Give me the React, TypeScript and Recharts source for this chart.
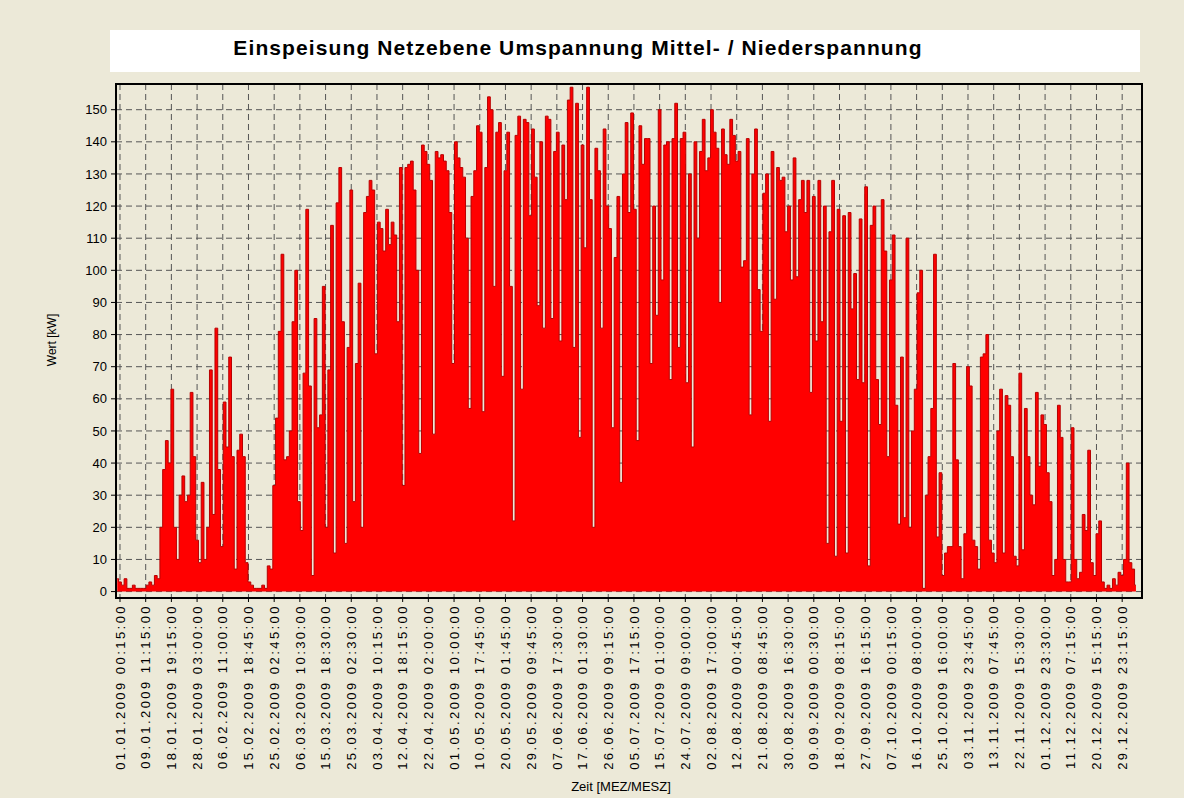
import { AreaChart, Area, XAxis, YAxis, CartesianGrid } from 'recharts';

// Zeitachse: Beschriftung alle 896 Viertelstunden (9,33 Tage)
const TICK_LABELS = [
  '01.01.2009 00:15:00', '09.01.2009 11:15:00', '18.01.2009 19:15:00', '28.01.2009 03:00:00',
  '06.02.2009 11:00:00', '15.02.2009 18:45:00', '25.02.2009 02:45:00', '06.03.2009 10:30:00',
  '15.03.2009 18:30:00', '25.03.2009 02:30:00', '03.04.2009 10:15:00', '12.04.2009 18:15:00',
  '22.04.2009 02:00:00', '01.05.2009 10:00:00', '10.05.2009 17:45:00', '20.05.2009 01:45:00',
  '29.05.2009 09:45:00', '07.06.2009 17:30:00', '17.06.2009 01:30:00', '26.06.2009 09:15:00',
  '05.07.2009 17:15:00', '15.07.2009 01:00:00', '24.07.2009 09:00:00', '02.08.2009 17:00:00',
  '12.08.2009 00:45:00', '21.08.2009 08:45:00', '30.08.2009 16:30:00', '09.09.2009 00:30:00',
  '18.09.2009 08:15:00', '27.09.2009 16:15:00', '07.10.2009 00:15:00', '16.10.2009 08:00:00',
  '25.10.2009 16:00:00', '03.11.2009 23:45:00', '13.11.2009 07:45:00', '22.11.2009 15:30:00',
  '01.12.2009 23:30:00', '11.12.2009 07:15:00', '20.12.2009 15:15:00', '29.12.2009 23:15:00',
];

const Y_TICKS = [0, 10, 20, 30, 40, 50, 60, 70, 80, 90, 100, 110, 120, 130, 140, 150];

// Tageswerte [kW] ab Tag -1
const FIRST_DAY = -1;
const WERTE_JAN_FEB = [
  4, 3, 2, 4, 1, 1, 2, 1, 1, 1, 1, 2, 3, 2, 5, 4, 20, 38, 47, 40, 63, 20, 10, 30, 36, 28, 30, 62, 42, 16, 9, 34,
  10, 20, 69, 24, 82, 38, 14, 59, 45, 73, 42, 7, 44, 49, 42, 9, 3, 2, 1, 1, 1, 2, 1, 8, 7, 33, 54, 81, 105,
];
const WERTE_MAR_APR = [
  41, 42, 50, 84, 100, 28, 19, 68, 119, 64, 5, 85, 51, 55, 95, 20, 69, 114, 12, 121, 132, 84, 15, 76, 125, 28,
  71, 96, 20, 118, 123, 128, 125, 74, 115, 113, 106, 119, 108, 115, 111, 84, 132, 33, 132, 133, 134, 125, 100,
  43, 139, 137, 133, 128, 49, 137, 135, 136, 134, 131, 118,
];
const WERTE_MAI_JUN = [
  71, 140, 135, 132, 129, 110, 57, 123, 131, 145, 143, 56, 132, 154, 150, 95, 143, 146, 67, 131, 143, 95, 22,
  142, 148, 63, 147, 146, 117, 144, 129, 89, 140, 82, 148, 147, 85, 137, 143, 78, 139, 122, 153, 157, 76, 152,
  48, 139, 107, 157, 122, 20, 138, 131, 82, 144, 120, 113, 51, 104, 123,
];
const WERTE_JUL_AUG = [
  34, 130, 146, 118, 149, 119, 47, 145, 133, 141, 141, 71, 120, 86, 150, 97, 139, 140, 66, 141, 152, 76, 141,
  143, 65, 130, 45, 140, 110, 137, 147, 131, 135, 150, 143, 138, 90, 144, 136, 133, 147, 142, 134, 137, 101,
  103, 141, 55, 130, 144, 94, 81, 124, 130, 53, 137, 91, 132, 128, 129, 112,
];
const WERTE_SEP_OKT = [
  120, 97, 135, 98, 122, 128, 118, 128, 62, 123, 78, 128, 84, 120, 15, 112, 128, 11, 119, 53, 117, 12, 118, 88,
  99, 66, 116, 65, 126, 8, 114, 120, 66, 52, 122, 106, 42, 97, 111, 58, 21, 73, 23, 110, 20, 50, 63, 93, 100,
  1, 30, 42, 57, 105, 17, 37, 5, 12, 14, 14, 71,
];
const WERTE_NOV_DEZ = [
  41, 14, 4, 18, 70, 64, 16, 14, 7, 73, 74, 80, 16, 12, 9, 50, 63, 12, 61, 58, 42, 11, 8, 68, 13, 57, 42, 30,
  27, 62, 39, 55, 52, 37, 28, 5, 10, 58, 48, 10, 3, 3, 51, 10, 4, 6, 24, 19, 44, 9, 5, 18, 22, 3, 1, 2, 1, 4,
  2, 6, 5, 10, 40, 9, 7, 2,
];

const WERTE = [
  ...WERTE_JAN_FEB, ...WERTE_MAR_APR, ...WERTE_MAI_JUN,
  ...WERTE_JUL_AUG, ...WERTE_SEP_OKT, ...WERTE_NOV_DEZ,
];

const TAGE_PRO_LABEL = 896 / 96;
const TICK_POS = TICK_LABELS.map((_, i) => i * TAGE_PRO_LABEL);
const data = WERTE.map((v, i) => ({ t: FIRST_DAY + i, wert: v }));

const FONT = 'Arial, "Liberation Sans", sans-serif';
const BG = '#ECE9D8';

const XTick = ({ x, y, index }: any) => (
  <text
    x={x}
    y={y}
    transform={`rotate(-90 ${x} ${y})`}
    textAnchor="end"
    dy="0.36em"
    fontSize={13}
    fontFamily={FONT}
    letterSpacing={2.45}
    fill="#000"
  >
    {TICK_LABELS[index]}
  </text>
);

export default function App() {
  return (
    <div style={{ position: 'absolute', left: 0, top: 0, width: 1184, height: 798, background: BG, fontFamily: FONT }}>
      <div style={{ position: 'absolute', left: 110, top: 30, width: 1030, height: 42, background: '#fff' }} />
      <div
        style={{
          position: 'absolute', left: 578, top: 48, transform: 'translate(-50%, -50%)', whiteSpace: 'nowrap',
          fontSize: 21, fontWeight: 'bold', color: '#000', letterSpacing: 1.1,
        }}
      >
        Einspeisung Netzebene Umspannung Mittel- / Niederspannung
      </div>

      <AreaChart width={1184} height={798} data={data} margin={{ top: 84, right: 42, bottom: 15, left: 56 }}>
        <CartesianGrid stroke="#555" strokeDasharray="6 4" fill={BG} />
        <XAxis
          dataKey="t"
          type="number"
          domain={[-1.45, 371.2]}
          allowDataOverflow
          ticks={TICK_POS}
          interval={0}
          height={185}
          tick={<XTick />}
          tickSize={4}
          tickMargin={2}
          tickLine={{ stroke: '#000' }}
          axisLine={false}
        />
        <YAxis
          type="number"
          domain={[-2, 158]}
          allowDataOverflow
          ticks={Y_TICKS}
          interval={0}
          width={60}
          tickSize={5}
          tickMargin={4}
          tick={{ fontSize: 13, fill: '#000', fontFamily: FONT }}
          tickLine={{ stroke: '#000' }}
          axisLine={false}
        />
        <Area
          type="step"
          dataKey="wert"
          stroke="#b80000"
          strokeWidth={1}
          fill="#ff0000"
          fillOpacity={1}
          isAnimationActive={false}
          dot={false}
          activeDot={false}
        />
      </AreaChart>

      <div
        style={{
          position: 'absolute', left: 115, top: 83, width: 1028, height: 516,
          border: '2px solid #000', boxSizing: 'border-box', pointerEvents: 'none',
        }}
      />
      <div
        style={{
          position: 'absolute', left: 52, top: 340, transform: 'translate(-50%, -50%) rotate(-90deg)',
          fontSize: 12, color: '#000', whiteSpace: 'nowrap',
        }}
      >
        Wert [kW]
      </div>
      <div
        style={{
          position: 'absolute', left: 621, top: 786, transform: 'translate(-50%, -50%)',
          fontSize: 13, color: '#000', whiteSpace: 'nowrap',
        }}
      >
        Zeit [MEZ/MESZ]
      </div>
    </div>
  );
}
